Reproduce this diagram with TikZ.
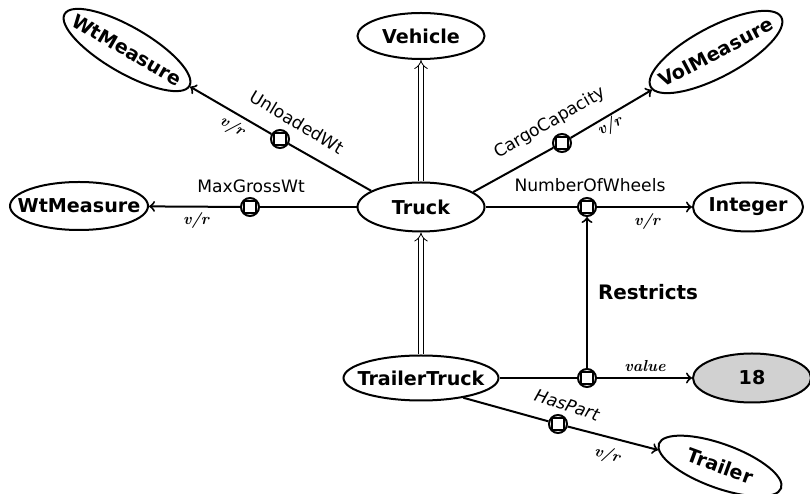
\documentclass[tikz,border=0pt]{standalone}
\usepackage{fontspec}
\setsansfont{DejaVu Sans}
\usetikzlibrary{shapes.geometric, arrows}
\tikzstyle{concept} = [ellipse, draw, line width=1bp, inner xsep=-8bp, inner ysep=0pt, text centered, font=\sffamily\bfseries\fontsize{9.6}{11}\selectfont]
\tikzstyle{relbox} = [circle, draw, line width=1bp, minimum size=9bp, inner sep=0pt, fill=white, path picture={\draw[line width=1bp] ([shift={(-3bp,-3bp)}]path picture bounding box.center) rectangle ([shift={(3bp,3bp)}]path picture bounding box.center);}]
\tikzstyle{rellabel} = [inner sep=0pt, font=\sffamily\fontsize{8.6}{10}\selectfont]
\tikzstyle{vr} = [inner sep=0pt, font=\rmfamily\itshape\bfseries\fontsize{8}{9}\selectfont]
\tikzstyle{link} = [line width=1bp]
\tikzstyle{arrow} = [line width=1bp,->,>=to]
\tikzstyle{isa} = [thin, double, double distance=2bp, -implies]

\begin{document}
\begin{tikzpicture}[x=0.5bp, y=-0.5bp]
                 \useasboundingbox (0,0) rectangle (810,494);
                 % concepts
                 \node [concept, minimum width=72bp, minimum height=23bp, rotate=-30] at (127,50) (wtup) {WtMeasure};
                 \node [concept, minimum width=63.5bp, minimum height=23bp] at (421,36) (vehicle) {Vehicle};
                 \node [concept, minimum width=74bp, minimum height=25bp, rotate=28] at (716,52) (vol) {VolMeasure};
                 \node [concept, minimum width=69bp, minimum height=24bp] at (79,206) (wtleft) {WtMeasure};
                 \node [concept, minimum width=63.5bp, minimum height=24.5bp] at (421,207) (truck) {Truck};
                 \node [concept, minimum width=55bp, minimum height=24.5bp] at (748,207) (int) {Integer};
                 \node [concept, minimum width=77.5bp, minimum height=22.5bp] at (421,378) (tt) {TrailerTruck};
                 \node [concept, minimum width=59bp, minimum height=24.5bp, fill=black!18] at (752,378) (eighteen) {18};
                 \node [concept, minimum width=65bp, minimum height=22bp, rotate=-20] at (720,466) (trailer) {Trailer};
                 % relation boxes
                 \node [relbox] at (280,139) (ubox) {};
                 \node [relbox] at (250,207) (mbox) {};
                 \node [relbox] at (562,143) (cbox) {};
                 \node [relbox] at (587,207) (nbox) {};
                 \node [relbox] at (587,378) (vbox) {};
                 \node [relbox] at (558,424) (hbox) {};
                 % relation labels
                 \node [rellabel, rotate=-31] at (297,122) (lunloaded) {UnloadedWt};
                 \node [vr, rotate=-30] at (232,127) (lvr1) {v/r};
                 \node [rellabel] at (251,186) (lmax) {MaxGrossWt};
                 \node [vr] at (196,221) (lvr2) {v/r};
                 \node [rellabel, rotate=30] at (550,123) (lcargo) {CargoCapacity};
                 \node [vr, rotate=28] at (610,126) (lvr3) {v/r};
                 \node [rellabel] at (590,185) (lnum) {NumberOfWheels};
                 \node [vr] at (647,222) (lvr4) {v/r};
                 \node [vr] at (645,366) (lvalue) {value};
                 \node [rellabel, rotate=-18, font=\sffamily\itshape\fontsize{8.6}{10}\selectfont] at (567,405) (lhas) {HasPart};
                 \node [vr, rotate=-15] at (607,455) (lvr5) {v/r};
                 % connectors
                 \draw [link] (truck.162) -- (ubox);
                 \draw [arrow] (ubox) -- (wtup);
                 \draw [link] (truck.west) -- (mbox);
                 \draw [arrow] (mbox) -- (wtleft);
                 \draw [link] (truck.16) -- (cbox);
                 \draw [arrow] (cbox) -- (vol);
                 \draw [link] (truck.east) -- (nbox);
                 \draw [arrow] (nbox) -- (int);
                 \draw [link] (tt.east) -- (vbox);
                 \draw [arrow] (vbox) -- (eighteen);
                 \draw [link] (tt.-25) -- (hbox);
                 \draw [arrow] (hbox) -- (trailer);
                 \draw [arrow] (vbox) -- node[midway, right=5bp, inner sep=0pt, font=\sffamily\bfseries\fontsize{10}{12}\selectfont] (lrestricts) {Restricts} (nbox);
                 \draw [isa] (truck) -- (vehicle);
                 \draw [isa] (tt) -- (truck);
                 \end{tikzpicture}
\end{document}
